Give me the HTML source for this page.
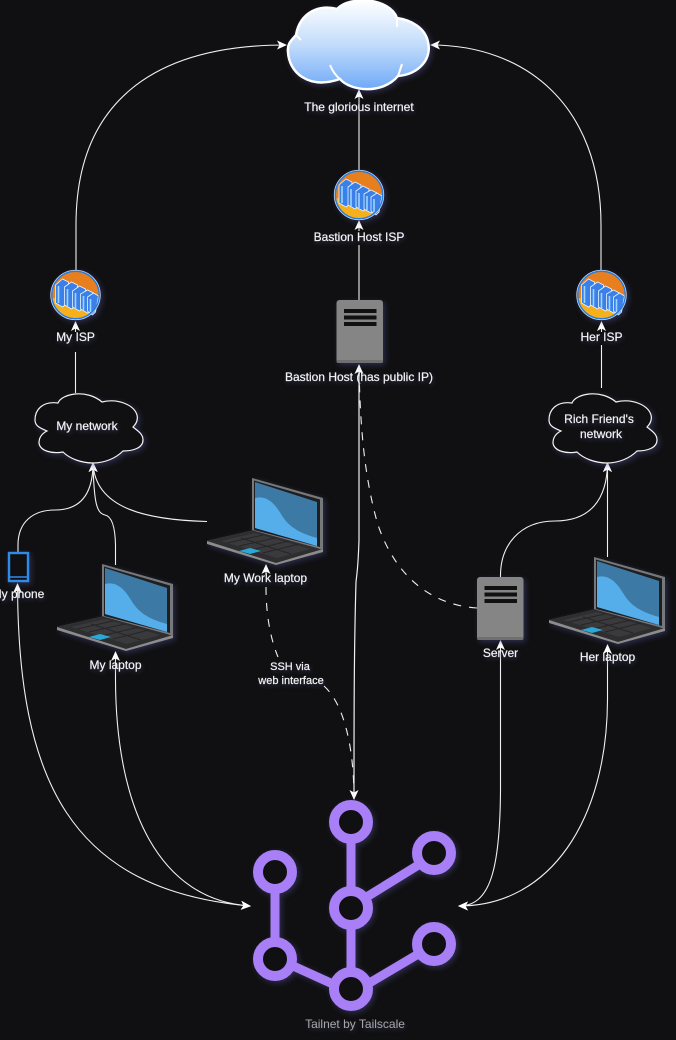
<!DOCTYPE html>
<html><head><meta charset="utf-8"><style>
html,body{margin:0;padding:0;background:#101012;width:676px;height:1040px;overflow:hidden}
svg{display:block}
text{font-family:"Liberation Sans",sans-serif;font-size:12px;fill:#f4f4f4;stroke:#f4f4f4;stroke-width:.2;text-anchor:middle;filter:drop-shadow(1px 2px 2px rgba(70,70,120,.55))}
.e{fill:none;stroke:#f0f0f0;stroke-width:1.1}
.s{filter:drop-shadow(2px 2px 3px rgba(80,80,150,.45))}
</style></head><body>
<svg width="676" height="1040" viewBox="0 0 676 1040" xmlns="http://www.w3.org/2000/svg">
<defs>
<marker id="a" viewBox="0 0 10 10" refX="9" refY="5" markerWidth="10" markerHeight="10" markerUnits="userSpaceOnUse" orient="auto-start-reverse"><path d="M0 0.500L10 5L0 9.500L2.500 5Z" fill="#fff"/></marker>
<linearGradient id="cg" x1="0" y1="0" x2="0" y2="1"><stop offset="0" stop-color="#fff"/><stop offset=".5" stop-color="#c2dcfb"/><stop offset="1" stop-color="#6fa9f7"/></linearGradient>
<g id="lap">
<path d="M0 63V66L69 87L116 74V70L48 52Z" fill="#8c8c8c"/>
<path d="M0 63L48 52L116 71L69 85Z" fill="#2e2e30"/>
<path d="M14 63L48 55L103 71L70 80Z" fill="#3a3a3c"/>
<path d="M20 65L56 57M32 68L68 60M44 72L82 63M56 75L92 66M34 60L84 76" stroke="#262628" stroke-width="1" fill="none"/>
<path d="M32 73L43 70L54 73L43 76Z" fill="#2aa9d8"/>
<path d="M45 52V0L116 20V72L110 70L48 53Z" fill="#77787a"/>
<path d="M47 2.500L113 21.500V69L47 52Z" fill="#1d1e22"/>
<path d="M48 4L110 24V68L48 50Z" fill="#3c7aa5"/>
<path d="M48 20C60 17 68 26 74 36C80 46 88 54 110 60V68L48 50Z" fill="#55aeea"/>
</g>
<g id="srv">
<rect width="46.500" height="63" rx="3" fill="#858585"/>
<rect y="60" width="46.500" height="3" rx="1.500" fill="#6f6f6f"/>
<rect x="7.500" y="9" width="32.500" height="4" fill="#111"/>
<rect x="7.500" y="15.500" width="32.500" height="4" fill="#111"/>
<rect x="7.500" y="22" width="32.500" height="4" fill="#111"/>
</g>
<g id="isp">
<circle r="24" fill="#e87f1e"/>
<path d="M-23.500 4C-12 -3 -2 9 6 14C12 18 20 12 23.500 5C21 17 11 24 0 24C-13 24 -23 15 -23.500 4Z" fill="#f6b01c"/>
<g stroke="#e8f4ff" stroke-width=".8" fill="#3a80e8">
<path d="M-20 -10L-13 -16L-7 -13L-9 9L-13 12L-20 8Z"/>
<path d="M-11 -8L-4 -13L2 -10L0 11L-4 14L-11 10Z"/>
<path d="M-3 -4L4 -9L10 -6L8 13L4 16L-3 12Z"/>
<path d="M5 -1L12 -5L18 -2L16 15L12 18L5 14Z"/>
<path d="M12 2L18 -2L23 1L20 17L17 20L12 16Z"/>
</g>
<path d="M-17 -9V8M-8 -6V11M0 -2V13M8 1V15M15 4V17" stroke="#9ad6ff" stroke-width="1.600"/>
<circle r="24" fill="none" stroke="#2a7cdc" stroke-width="2"/>
<circle r="24.800" fill="none" stroke="#cfe3f8" stroke-width=".7"/>
</g>
<path id="nc" d="M58 403C42 401 35 410 35 420C35 426 40 428 47 431C41 434 39 438 39 443C40 451 52 454 63 452C70 459 82 463 93 463C105 463 116 458 123 451C133 451 143 448 143 440C143 434 138 431 133 427C137 423 138 419 137 415C134 405 118 398 102 402C95 396 85 393 75 394C67 395 60 398 58 403Z" fill="#101012" stroke="#f4f4f4" stroke-width="1.200"/>
</defs>

<rect width="676" height="1040" fill="#101012"/>

<!-- connectors -->
<g class="e">
<path d="M76 270V225C76 105 150 45 286 45" marker-end="url(#a)"/>
<path d="M601 270V225C601 105 525 45 431 45" marker-end="url(#a)"/>
<path d="M359 170V90" marker-end="url(#a)"/>
<path d="M359 300V245"/>
<path d="M359 231V221" marker-end="url(#a)"/>
<path d="M75.500 393V352"/>
<path d="M75.500 332V322" marker-end="url(#a)"/>
<path d="M601.500 388V345"/>
<path d="M601.500 332V322" marker-end="url(#a)"/>
<path d="M18 552V545C18 522 33 510 55 510C80 510 93 495 93 463" marker-end="url(#a)"/>
<path d="M115.500 565V545C115 522 110 516 105 515C97 513 94 505 93 463" marker-end="url(#a)"/>
<path d="M207 521.500C150 520 95 510 93 463"/>
<path d="M500.500 577C500 545 520 521 555 521C590 521 607 500 607.500 463" marker-end="url(#a)"/>
<path d="M607.500 557V463" marker-end="url(#a)"/>
<path d="M17.500 584C18 780 70 890 250 906" marker-start="url(#a)" marker-end="url(#a)"/>
<path d="M115.500 652V680C116 810 160 900 250 906" marker-start="url(#a)" marker-end="url(#a)"/>
<path d="M500.500 641V790C500 870 490 906 459 906" marker-start="url(#a)" marker-end="url(#a)"/>
<path d="M607.500 645V700C607 820 550 906 459 906" marker-start="url(#a)" marker-end="url(#a)"/>
<path d="M359 365V540C358 570 357 572 356 582C354 650 354 720 354 799" marker-start="url(#a)" marker-end="url(#a)" stroke-width="1.200"/>
<path d="M477 608C430 605 395 575 378 525C365 480 360 430 359 365" stroke-dasharray="8 8"/>
<path d="M266 575V565" marker-end="url(#a)"/>
<path d="M266 587C266 610 269 635 278 657" stroke-dasharray="8 8"/>
<path d="M324 686C345 705 354 750 354 799" stroke-dasharray="8 8"/>
</g>

<!-- big cloud -->
<g class="s">
<path d="M296 35C292 40 287 43 288 52C289 72 308 90 340 79C350 91 382 95 398 76C420 74 432 58 428 42C425 27 410 20 397 18C390 -2 350 -5 337 9C320 4 300 12 296 35Z" fill="url(#cg)" stroke="#fff" stroke-width="2.500"/>
<path d="M296 35L301 40M397 18L397 27M330 65C333 72 336 76 340 79M402 64L398 76" fill="none" stroke="#fff" stroke-width="2"/>
</g>

<!-- isp -->
<g class="s">
<use href="#isp" transform="translate(359 195)"/>
<use href="#isp" transform="translate(75.500 295)"/>
<use href="#isp" transform="translate(601.500 295)"/>
</g>

<!-- servers -->
<g class="s">
<use href="#srv" transform="translate(336.500 300)"/>
<use href="#srv" transform="translate(477 577)"/>
</g>

<!-- network clouds -->
<g class="s">
<use href="#nc"/>
<use href="#nc" transform="translate(514 0)"/>
</g>

<!-- laptops -->
<g class="s">
<use href="#lap" transform="translate(207 478)"/>
<use href="#lap" transform="translate(57 564)"/>
<use href="#lap" transform="translate(549 557)"/>
</g>

<!-- phone -->
<g class="s"><rect x="9" y="553" width="19" height="28" fill="#101012" stroke="#2f8bea" stroke-width="2.400"/><path d="M9 577H28" stroke="#2f8bea" stroke-width="1.500"/></g>

<!-- tailnet -->
<g class="s" fill="#101012" stroke="#a87ff6">
<path d="M351 840V890M351 926V971M420 864L365 898M420 953L366 985M275 890V941M291 965L335 985" stroke-width="9"/>
<g stroke-width="10">
<circle cx="351" cy="822" r="17"/><circle cx="434" cy="853" r="17"/><circle cx="351" cy="908" r="17"/><circle cx="434" cy="944" r="17"/><circle cx="275" cy="872" r="17"/><circle cx="275" cy="959" r="17"/><circle cx="351" cy="989" r="17"/>
</g>
</g>

<!-- labels -->
<text x="359" y="111">The glorious internet</text>
<text x="359" y="241">Bastion Host ISP</text>
<text x="359" y="381">Bastion Host (has public IP)</text>
<text x="75.500" y="341">My ISP</text>
<text x="601.500" y="341">Her ISP</text>
<text x="87" y="430">My network</text>
<text x="599" y="423">Rich Friend's</text>
<text x="601" y="438">network</text>
<text x="265.500" y="582">My Work laptop</text>
<text x="18" y="598">My phone</text>
<text x="115.500" y="669">My laptop</text>
<text x="500.500" y="657">Server</text>
<text x="607.500" y="661">Her laptop</text>
<text x="290" y="670" style="font-size:11px">SSH via</text>
<text x="291" y="684" style="font-size:11px">web interface</text>
<text x="355" y="1028" style="fill:#a8a8a8;stroke:none">Tailnet by Tailscale</text>
</svg>
</body></html>
